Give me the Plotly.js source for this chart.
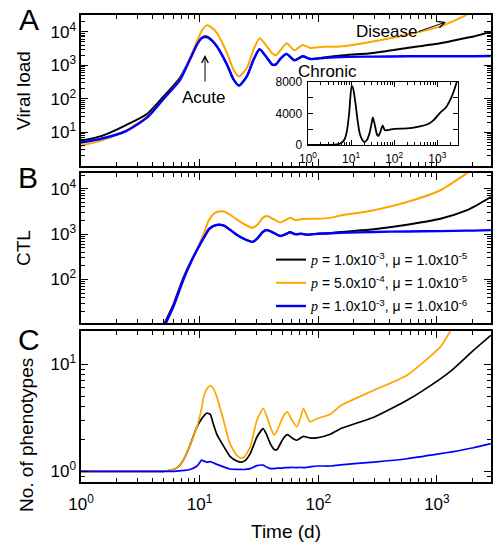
<!DOCTYPE html>
<html><head><meta charset="utf-8">
<script src="https://cdn.plot.ly/plotly-3.0.1.min.js"></script>
<style>html,body{margin:0;padding:0;background:#fff}#chart{width:495px;height:542px}</style>
</head><body><div id="chart"></div>
<script>
// ---------- DATA ----------
// Panel A: viral load
const tA = [1, 1.5, 2.4, 3.6, 4.9, 6.8, 8.3, 9.5, 10.5, 11.5, 12.5, 14, 17, 19.3, 21.5, 25, 28.5, 32, 37, 41, 44, 48, 54, 63, 74, 85, 111, 154, 290, 560, 1070, 1660, 2040, 2850];
const viralBlack  = [5.6, 7.9, 16.6, 35.5, 112, 417, 1580, 4270, 6760, 7240, 5890, 3630, 1050, 380, 250, 470, 1480, 3020, 1660, 1050, 1070, 1580, 2190, 1410, 1860, 1550, 1700, 1950, 2340, 3310, 4570, 6310, 7240, 10000];
const viralOrange = [4.0, 5.8, 11.5, 29.5, 95, 372, 1660, 5250, 11200, 15500, 13800, 9120, 2340, 740, 470, 830, 2950, 6460, 3630, 2240, 2000, 2820, 4570, 2820, 4070, 3310, 3550, 3630, 5130, 8130, 14500, 28200, 41700, 79400];
const viralBlue   = [5.0, 6.6, 11.0, 27.5, 95, 355, 1510, 4170, 6610, 6920, 5750, 3630, 1050, 380, 250, 470, 1480, 3020, 1660, 1050, 1070, 1580, 2190, 1410, 1860, 1550, 1660, 1780, 1820, 1860, 1860, 1860, 1860, 1900];

// Inset: viral load (linear), black series
const tInset = [1, 3, 4.7, 6, 7, 8, 9, 10.3, 11, 12.5, 14, 16, 18, 20, 23, 27, 30, 32, 35, 40, 43, 48, 54, 60, 67, 80, 100, 200, 350, 575, 800, 1170, 1600, 2000, 2400, 2750, 2900];
const viralInset = [5, 20, 80, 300, 700, 1800, 4000, 7500, 7300, 5500, 3300, 1400, 700, 400, 600, 1600, 2800, 3500, 2700, 1300, 1160, 1700, 2500, 1900, 1870, 1950, 2050, 2100, 2300, 2600, 3100, 4100, 4800, 5750, 6800, 7800, 8200];

// Panel B: CTL
const tB = [4.6, 5.2, 6, 7.3, 8.5, 10, 11, 11.9, 12.5, 13, 14.4, 16, 18, 21, 25, 28, 31, 34, 37, 42, 48, 53, 58, 64, 72, 80, 100, 126, 154, 294, 560, 1070, 1800, 2040, 2850];
const ctlBlack  = [6.3, 12.5, 28, 110, 260, 575, 890, 1260, 1410, 1510, 1620, 1550, 1260, 933, 741, 676, 832, 1120, 1230, 1070, 912, 1000, 1100, 1000, 1020, 977, 1020, 1050, 1120, 1290, 1620, 2190, 3390, 3980, 6610];
const ctlOrange = [5.6, 11, 25, 100, 250, 630, 1120, 2000, 2400, 2750, 3160, 3160, 2690, 2040, 1550, 1380, 1660, 2290, 2510, 2140, 1820, 2040, 2290, 2040, 2140, 2190, 2190, 2290, 2570, 3390, 5130, 9330, 22400, 28200, 63000];
const ctlBlue   = [5.6, 11, 25, 100, 250, 575, 890, 1260, 1410, 1510, 1620, 1550, 1260, 933, 741, 676, 832, 1120, 1230, 1070, 912, 1000, 1100, 1000, 1020, 977, 1020, 1050, 1070, 1120, 1150, 1170, 1200, 1200, 1230];

// Panel C: number of phenotypes
const tC = [1, 5, 5.6, 6.2, 6.8, 7.5, 8.3, 9.5, 10.4, 10.8, 11.5, 12.3, 13, 14, 15.9, 18, 20.6, 22.3, 24, 26.7, 30.4, 34.3, 37, 39.4, 42.5, 45, 49, 52, 55, 60, 66, 71, 75, 85, 97, 126, 154, 294, 560, 1070, 1340, 2040, 2850];
const phenoBlack  = [1.0, 1.0, 1.02, 1.05, 1.14, 1.35, 1.75, 2.6, 3.1, 3.27, 3.5, 3.4, 2.8, 2.2, 1.72, 1.38, 1.25, 1.22, 1.25, 1.46, 2.09, 2.5, 2.15, 1.81, 1.6, 1.6, 1.9, 2.1, 2.2, 2.05, 1.95, 2.05, 2.12, 2.05, 2.05, 2.22, 2.5, 3.2, 4.6, 7.3, 8.8, 13.5, 18.6];
const phenoOrange = [1.0, 1.0, 1.02, 1.05, 1.14, 1.35, 1.75, 2.6, 3.9, 4.9, 5.9, 6.3, 6.0, 4.9, 3.0, 1.81, 1.41, 1.33, 1.38, 1.69, 3.0, 3.86, 3.2, 2.6, 2.17, 2.4, 3.0, 3.4, 3.58, 3.0, 2.6, 3.2, 3.86, 2.9, 3.1, 3.41, 4.1, 5.7, 7.9, 14.5, 21.5, 40, 70];
const phenoBlue   = [1.0, 1.0, 1.0, 1.0, 1.01, 1.02, 1.04, 1.12, 1.27, 1.25, 1.22, 1.23, 1.2, 1.16, 1.1, 1.05, 1.04, 1.04, 1.04, 1.06, 1.13, 1.14, 1.09, 1.06, 1.06, 1.07, 1.07, 1.08, 1.08, 1.09, 1.08, 1.09, 1.08, 1.1, 1.12, 1.12, 1.15, 1.22, 1.31, 1.46, 1.52, 1.66, 1.81];

// Tick labels and legend names
const decadeTicks = [1, 10, 100, 1000, 10000];
const decadeText = ['10<sup>0</sup>', '10<sup>1</sup>', '10<sup>2</sup>', '10<sup>3</sup>', '10<sup>4</sup>'];
const insetYTicks = [0, 2000, 4000, 6000, 8000];
const insetYText = ['0', '', '4000', '', '8000'];
const seriesNames = [
  '<span style="font-family:Liberation Serif"><i>p</i></span> = 1.0x10<sup>-3</sup>, μ = 1.0x10<sup>-5</sup>',
  '<span style="font-family:Liberation Serif"><i>p</i></span> = 5.0x10<sup>-4</sup>, μ = 1.0x10<sup>-5</sup>',
  '<span style="font-family:Liberation Serif"><i>p</i></span> = 1.0x10<sup>-3</sup>, μ = 1.0x10<sup>-6</sup>'
];
const colors = ['#000000', '#FFA500', '#0000FF'];

// ---------- LAYOUT HELPERS ----------
const W = 495, H = 542;
const FONT = 'Liberation Sans, Arial, Helvetica, sans-serif';
const px = x => x / W;
const py = y => 1 - y / H;

const minorLog = [];
for (let k = -1; k <= 4; k++) for (let m = 2; m <= 9; m++) minorLog.push(m * Math.pow(10, k));

function logAxis(extra) {
  return Object.assign({
    type: 'log', showline: true, linecolor: '#000', linewidth: 1.6, mirror: 'ticks',
    ticks: 'inside', ticklen: 7, tickwidth: 1, tickcolor: '#000',
    tickmode: 'array', tickvals: decadeTicks, ticktext: decadeText,
    minor: {ticks: 'inside', ticklen: 4, tickwidth: 1, tickcolor: '#000', tickmode: 'array', tickvals: minorLog},
    showgrid: false, zeroline: false,
    tickfont: {family: FONT, size: 17, color: '#000'}
  }, extra);
}

const xDom = [px(81), px(491)];
const xRange = [0, 3.456];

// ---------- TRACES ----------
const traces = [];
const seriesA = [viralBlack, viralOrange, viralBlue];
const seriesB = [ctlBlack, ctlOrange, ctlBlue];
const seriesC = [phenoBlack, phenoOrange, phenoBlue];
for (let i = 0; i < 3; i++) {
  traces.push({x: tA, y: seriesA[i], xaxis: 'x3', yaxis: 'y3', mode: 'lines', showlegend: false,
    line: {color: colors[i], width: i === 2 ? 2.4 : 2, shape: 'spline', smoothing: 0.6}, hoverinfo: 'skip'});
}
for (let i = 0; i < 3; i++) {
  traces.push({x: tB, y: seriesB[i], xaxis: 'x2', yaxis: 'y2', mode: 'lines', name: seriesNames[i],
    legendgroup: 'g' + i, showlegend: true,
    line: {color: colors[i], width: i === 2 ? 2.4 : 2, shape: 'spline', smoothing: 0.6}, hoverinfo: 'skip'});
}
for (let i = 0; i < 3; i++) {
  traces.push({x: tC, y: seriesC[i], xaxis: 'x', yaxis: 'y', mode: 'lines', showlegend: false,
    line: {color: colors[i], width: 1.7, shape: 'spline', smoothing: 0.5}, hoverinfo: 'skip'});
}
traces.push({x: tInset, y: viralInset, xaxis: 'x4', yaxis: 'y4', mode: 'lines', showlegend: false,
  line: {color: '#000', width: 1.8, shape: 'spline', smoothing: 0.6}, hoverinfo: 'skip'});

// ---------- LAYOUT ----------
function label(text, x, y, size, extra) {
  return Object.assign({text: text, xref: 'paper', yref: 'paper', x: px(x), y: py(y),
    xanchor: 'center', yanchor: 'middle', showarrow: false, font: {family: FONT, size: size, color: '#000'}}, extra || {});
}
function arrow(x, y, ax, ay) {
  return {text: '', xref: 'paper', yref: 'paper', x: px(x), y: py(y), ax: ax, ay: ay,
    showarrow: true, arrowhead: 5, arrowsize: 1.3, arrowwidth: 1, arrowcolor: '#000'};
}

const layout = {
  width: W, height: H,
  margin: {l: 0, r: 0, t: 0, b: 0},
  paper_bgcolor: '#fff', plot_bgcolor: 'rgba(0,0,0,0)',
  font: {family: FONT, color: '#000'},
  showlegend: true,
  legend: {x: px(271), y: py(244), xanchor: 'left', yanchor: 'top', bgcolor: 'rgba(0,0,0,0)',
    font: {family: FONT, size: 14, color: '#000'}, tracegroupgap: 2, itemwidth: 30},
  xaxis: logAxis({domain: xDom, anchor: 'y', range: xRange, tickvals: [1, 10, 100, 1000], ticktext: decadeText.slice(0, 4),
    ticklabelstandoff: 6,
    title: {text: 'Time (d)', font: {family: FONT, size: 19}, standoff: 12}}),
  xaxis2: logAxis({domain: xDom, anchor: 'y2', range: xRange, tickvals: [1, 10, 100, 1000], showticklabels: false}),
  xaxis3: logAxis({domain: xDom, anchor: 'y3', range: xRange, tickvals: [1, 10, 100, 1000], showticklabels: false}),
  yaxis: logAxis({domain: [py(482), py(331)], anchor: 'x', range: [-0.10, 1.31], tickvals: [1, 10], ticktext: decadeText.slice(0, 2)}),
  yaxis2: logAxis({domain: [py(323), py(173)], anchor: 'x2', range: [1.04, 4.35], tickvals: [100, 1000, 10000], ticktext: decadeText.slice(2, 5),
    title: {text: 'CTL', font: {family: FONT, size: 19}, standoff: 15}}),
  yaxis3: logAxis({domain: [py(166), py(15)], anchor: 'x3', range: [0.0, 4.5], tickvals: [10, 100, 1000, 10000], ticktext: decadeText.slice(1, 5),
    title: {text: 'Viral load', font: {family: FONT, size: 19}, standoff: 15}}),
  xaxis4: logAxis({domain: [px(308), px(458)], anchor: 'y4', range: [0, 3.48], tickvals: [1, 10, 100, 1000], ticktext: decadeText.slice(0, 4),
    ticklen: 5, ticklabelstandoff: 2, minor: {ticks: 'inside', ticklen: 3, tickwidth: 1, tickcolor: '#000', tickmode: 'array', tickvals: minorLog},
    linewidth: 1.4, tickfont: {family: FONT, size: 12, color: '#000'}}),
  yaxis4: {domain: [py(145), py(82)], anchor: 'x4', type: 'linear', range: [0, 8000],
    showline: true, linecolor: '#000', linewidth: 1.4, mirror: 'ticks', ticks: 'inside', ticklen: 5, tickcolor: '#000',
    tickmode: 'array', tickvals: insetYTicks, ticktext: insetYText, showgrid: false, zeroline: false, ticklabelstandoff: 2,
    tickfont: {family: FONT, size: 12, color: '#000'}},
  annotations: [
    label('A', 29, 20, 30),
    label('B', 28, 177, 30),
    label('C', 29, 339, 30),
    label('No. of phenotypes', 26, 435, 19, {textangle: -90}),
    label('Acute', 203.5, 97, 17),
    arrow(205, 55, 0, 28),
    label('Disease', 386.5, 32, 17),
    arrow(446, 22, -29, 10),
    label('Chronic', 327, 71, 17)
  ]
};

Plotly.newPlot('chart', traces, layout, {staticPlot: true, displayModeBar: false});
</script>
</body></html>
